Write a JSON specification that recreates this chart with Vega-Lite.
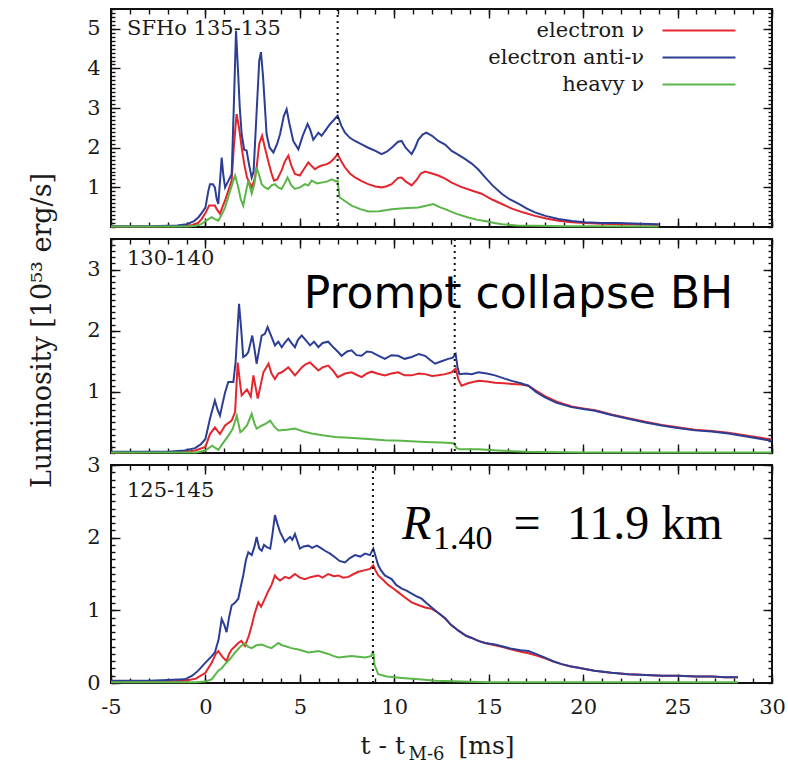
{
  "$schema": "https://vega.github.io/schema/vega-lite/v6.json",
  "background": "white",
  "padding": {"left": 26, "top": 7, "right": 0, "bottom": 0},
  "bounds": "flush",
  "spacing": 12,
  "config": {
    "view": {"stroke": "#111111", "strokeWidth": 2},
    "axis": {
      "grid": false, "domain": false, "tickColor": "#111111", "tickWidth": 1.4,
      "labelFont": "DejaVu Serif", "labelFontSize": 21, "labelColor": "#1a1a1a", "labelFlush": false,
      "titleFont": "DejaVu Serif", "titleFontSize": 25, "titleFontWeight": "normal", "titleColor": "#1a1a1a"
    },
    "line": {"strokeWidth": 2}
  },
  "resolve": {"scale": {"color": "independent"}, "legend": {"color": "independent"}},
  "datasets": {
    "sfho_135_135": [
      {"species": "electron ν", "t": -5, "L": 0.01}, {"species": "electron ν", "t": -3, "L": 0.01}, {"species": "electron ν", "t": -2, "L": 0.02}, {"species": "electron ν", "t": -1, "L": 0.03}, {"species": "electron ν", "t": -0.7, "L": 0.05}, {"species": "electron ν", "t": -0.4, "L": 0.1}, {"species": "electron ν", "t": -0.2, "L": 0.2}, {"species": "electron ν", "t": 0, "L": 0.35}, {"species": "electron ν", "t": 0.2, "L": 0.54}, {"species": "electron ν", "t": 0.5, "L": 0.54}, {"species": "electron ν", "t": 0.6, "L": 0.45}, {"species": "electron ν", "t": 0.77, "L": 0.33}, {"species": "electron ν", "t": 0.9, "L": 0.5}, {"species": "electron ν", "t": 1.04, "L": 0.67}, {"species": "electron ν", "t": 1.2, "L": 0.9}, {"species": "electron ν", "t": 1.39, "L": 1.17}, {"species": "electron ν", "t": 1.5, "L": 2.0}, {"species": "electron ν", "t": 1.65, "L": 2.85}, {"species": "electron ν", "t": 1.78, "L": 2.5}, {"species": "electron ν", "t": 1.92, "L": 2.0}, {"species": "electron ν", "t": 2.05, "L": 1.6}, {"species": "electron ν", "t": 2.2, "L": 1.25}, {"species": "electron ν", "t": 2.45, "L": 1.0}, {"species": "electron ν", "t": 2.6, "L": 1.2}, {"species": "electron ν", "t": 2.71, "L": 1.5}, {"species": "electron ν", "t": 2.85, "L": 2.1}, {"species": "electron ν", "t": 3.0, "L": 2.3}, {"species": "electron ν", "t": 3.15, "L": 2.0}, {"species": "electron ν", "t": 3.32, "L": 1.67}, {"species": "electron ν", "t": 3.5, "L": 1.35}, {"species": "electron ν", "t": 3.63, "L": 1.17}, {"species": "electron ν", "t": 3.8, "L": 1.2}, {"species": "electron ν", "t": 4.03, "L": 1.42}, {"species": "electron ν", "t": 4.2, "L": 1.65}, {"species": "electron ν", "t": 4.39, "L": 1.8}, {"species": "electron ν", "t": 4.55, "L": 1.55}, {"species": "electron ν", "t": 4.74, "L": 1.34}, {"species": "electron ν", "t": 5.0, "L": 1.3}, {"species": "electron ν", "t": 5.2, "L": 1.45}, {"species": "electron ν", "t": 5.45, "L": 1.63}, {"species": "electron ν", "t": 5.6, "L": 1.55}, {"species": "electron ν", "t": 5.8, "L": 1.46}, {"species": "electron ν", "t": 6.0, "L": 1.52}, {"species": "electron ν", "t": 6.16, "L": 1.55}, {"species": "electron ν", "t": 6.4, "L": 1.58}, {"species": "electron ν", "t": 6.6, "L": 1.63}, {"species": "electron ν", "t": 6.8, "L": 1.72}, {"species": "electron ν", "t": 7.0, "L": 1.84}, {"species": "electron ν", "t": 7.2, "L": 1.65}, {"species": "electron ν", "t": 7.39, "L": 1.5}, {"species": "electron ν", "t": 7.65, "L": 1.35}, {"species": "electron ν", "t": 7.92, "L": 1.25}, {"species": "electron ν", "t": 8.3, "L": 1.15}, {"species": "electron ν", "t": 8.62, "L": 1.08}, {"species": "electron ν", "t": 9.0, "L": 1.02}, {"species": "electron ν", "t": 9.33, "L": 1.0}, {"species": "electron ν", "t": 9.6, "L": 1.03}, {"species": "electron ν", "t": 9.86, "L": 1.08}, {"species": "electron ν", "t": 10.2, "L": 1.24}, {"species": "electron ν", "t": 10.39, "L": 1.25}, {"species": "electron ν", "t": 10.6, "L": 1.15}, {"species": "electron ν", "t": 10.92, "L": 1.05}, {"species": "electron ν", "t": 11.2, "L": 1.2}, {"species": "electron ν", "t": 11.4, "L": 1.35}, {"species": "electron ν", "t": 11.63, "L": 1.4}, {"species": "electron ν", "t": 12.0, "L": 1.35}, {"species": "electron ν", "t": 12.33, "L": 1.3}, {"species": "electron ν", "t": 12.69, "L": 1.22}, {"species": "electron ν", "t": 13.04, "L": 1.12}, {"species": "electron ν", "t": 13.5, "L": 1.02}, {"species": "electron ν", "t": 14.1, "L": 0.92}, {"species": "electron ν", "t": 14.62, "L": 0.84}, {"species": "electron ν", "t": 15.15, "L": 0.7}, {"species": "electron ν", "t": 15.7, "L": 0.58}, {"species": "electron ν", "t": 16.2, "L": 0.47}, {"species": "electron ν", "t": 16.8, "L": 0.37}, {"species": "electron ν", "t": 17.45, "L": 0.28}, {"species": "electron ν", "t": 18.1, "L": 0.21}, {"species": "electron ν", "t": 18.7, "L": 0.16}, {"species": "electron ν", "t": 19.4, "L": 0.12}, {"species": "electron ν", "t": 20.1, "L": 0.1}, {"species": "electron ν", "t": 21, "L": 0.08}, {"species": "electron ν", "t": 22, "L": 0.07}, {"species": "electron ν", "t": 23, "L": 0.06}, {"species": "electron ν", "t": 24, "L": 0.05},
      {"species": "electron anti-ν", "t": -5, "L": 0.02}, {"species": "electron anti-ν", "t": -3, "L": 0.02}, {"species": "electron anti-ν", "t": -2, "L": 0.03}, {"species": "electron anti-ν", "t": -1.5, "L": 0.04}, {"species": "electron anti-ν", "t": -1, "L": 0.07}, {"species": "electron anti-ν", "t": -0.6, "L": 0.15}, {"species": "electron anti-ν", "t": -0.38, "L": 0.24}, {"species": "electron anti-ν", "t": -0.2, "L": 0.35}, {"species": "electron anti-ν", "t": 0, "L": 0.49}, {"species": "electron anti-ν", "t": 0.15, "L": 0.9}, {"species": "electron anti-ν", "t": 0.24, "L": 1.08}, {"species": "electron anti-ν", "t": 0.4, "L": 1.08}, {"species": "electron anti-ν", "t": 0.5, "L": 1.0}, {"species": "electron anti-ν", "t": 0.6, "L": 0.7}, {"species": "electron anti-ν", "t": 0.68, "L": 0.58}, {"species": "electron anti-ν", "t": 0.78, "L": 1.2}, {"species": "electron anti-ν", "t": 0.86, "L": 1.75}, {"species": "electron anti-ν", "t": 0.95, "L": 1.3}, {"species": "electron anti-ν", "t": 1.04, "L": 1.0}, {"species": "electron anti-ν", "t": 1.2, "L": 1.15}, {"species": "electron anti-ν", "t": 1.39, "L": 1.33}, {"species": "electron anti-ν", "t": 1.5, "L": 3.0}, {"species": "electron anti-ν", "t": 1.62, "L": 4.95}, {"species": "electron anti-ν", "t": 1.72, "L": 4.0}, {"species": "electron anti-ν", "t": 1.82, "L": 3.0}, {"species": "electron anti-ν", "t": 1.92, "L": 2.34}, {"species": "electron anti-ν", "t": 2.05, "L": 1.95}, {"species": "electron anti-ν", "t": 2.18, "L": 1.93}, {"species": "electron anti-ν", "t": 2.3, "L": 1.6}, {"species": "electron anti-ν", "t": 2.45, "L": 1.25}, {"species": "electron anti-ν", "t": 2.55, "L": 1.4}, {"species": "electron anti-ν", "t": 2.7, "L": 2.8}, {"species": "electron anti-ν", "t": 2.85, "L": 4.2}, {"species": "electron anti-ν", "t": 2.94, "L": 4.41}, {"species": "electron anti-ν", "t": 3.05, "L": 3.8}, {"species": "electron anti-ν", "t": 3.24, "L": 2.34}, {"species": "electron anti-ν", "t": 3.4, "L": 2.0}, {"species": "electron anti-ν", "t": 3.6, "L": 1.88}, {"species": "electron anti-ν", "t": 3.8, "L": 2.1}, {"species": "electron anti-ν", "t": 3.95, "L": 2.34}, {"species": "electron anti-ν", "t": 4.15, "L": 2.8}, {"species": "electron anti-ν", "t": 4.3, "L": 2.97}, {"species": "electron anti-ν", "t": 4.45, "L": 2.6}, {"species": "electron anti-ν", "t": 4.65, "L": 2.17}, {"species": "electron anti-ν", "t": 4.92, "L": 1.96}, {"species": "electron anti-ν", "t": 5.15, "L": 2.3}, {"species": "electron anti-ν", "t": 5.41, "L": 2.6}, {"species": "electron anti-ν", "t": 5.55, "L": 2.45}, {"species": "electron anti-ν", "t": 5.71, "L": 2.2}, {"species": "electron anti-ν", "t": 5.98, "L": 2.38}, {"species": "electron anti-ν", "t": 6.15, "L": 2.3}, {"species": "electron anti-ν", "t": 6.33, "L": 2.42}, {"species": "electron anti-ν", "t": 6.6, "L": 2.6}, {"species": "electron anti-ν", "t": 6.8, "L": 2.7}, {"species": "electron anti-ν", "t": 7.0, "L": 2.81}, {"species": "electron anti-ν", "t": 7.2, "L": 2.55}, {"species": "electron anti-ν", "t": 7.39, "L": 2.38}, {"species": "electron anti-ν", "t": 7.65, "L": 2.25}, {"species": "electron anti-ν", "t": 7.92, "L": 2.17}, {"species": "electron anti-ν", "t": 8.3, "L": 2.08}, {"species": "electron anti-ν", "t": 8.62, "L": 2.0}, {"species": "electron anti-ν", "t": 9.0, "L": 1.92}, {"species": "electron anti-ν", "t": 9.33, "L": 1.84}, {"species": "electron anti-ν", "t": 9.6, "L": 1.9}, {"species": "electron anti-ν", "t": 9.86, "L": 2.0}, {"species": "electron anti-ν", "t": 10.2, "L": 2.15}, {"species": "electron anti-ν", "t": 10.39, "L": 2.17}, {"species": "electron anti-ν", "t": 10.6, "L": 2.0}, {"species": "electron anti-ν", "t": 10.92, "L": 1.84}, {"species": "electron anti-ν", "t": 11.1, "L": 2.0}, {"species": "electron anti-ν", "t": 11.27, "L": 2.2}, {"species": "electron anti-ν", "t": 11.5, "L": 2.33}, {"species": "electron anti-ν", "t": 11.7, "L": 2.38}, {"species": "electron anti-ν", "t": 12.0, "L": 2.3}, {"species": "electron anti-ν", "t": 12.33, "L": 2.17}, {"species": "electron anti-ν", "t": 12.69, "L": 2.08}, {"species": "electron anti-ν", "t": 13.04, "L": 1.92}, {"species": "electron anti-ν", "t": 13.4, "L": 1.82}, {"species": "electron anti-ν", "t": 13.74, "L": 1.72}, {"species": "electron anti-ν", "t": 14.1, "L": 1.6}, {"species": "electron anti-ν", "t": 14.45, "L": 1.45}, {"species": "electron anti-ν", "t": 14.8, "L": 1.26}, {"species": "electron anti-ν", "t": 15.2, "L": 1.05}, {"species": "electron anti-ν", "t": 15.69, "L": 0.84}, {"species": "electron anti-ν", "t": 16.1, "L": 0.7}, {"species": "electron anti-ν", "t": 16.57, "L": 0.59}, {"species": "electron anti-ν", "t": 17.0, "L": 0.47}, {"species": "electron anti-ν", "t": 17.45, "L": 0.37}, {"species": "electron anti-ν", "t": 18.0, "L": 0.28}, {"species": "electron anti-ν", "t": 18.69, "L": 0.2}, {"species": "electron anti-ν", "t": 19.4, "L": 0.15}, {"species": "electron anti-ν", "t": 20.1, "L": 0.12}, {"species": "electron anti-ν", "t": 21.0, "L": 0.1}, {"species": "electron anti-ν", "t": 21.86, "L": 0.1}, {"species": "electron anti-ν", "t": 23.0, "L": 0.08}, {"species": "electron anti-ν", "t": 24.0, "L": 0.07},
      {"species": "heavy ν", "t": -5, "L": 0.01}, {"species": "heavy ν", "t": -1, "L": 0.01}, {"species": "heavy ν", "t": -0.5, "L": 0.03}, {"species": "heavy ν", "t": -0.2, "L": 0.08}, {"species": "heavy ν", "t": 0, "L": 0.15}, {"species": "heavy ν", "t": 0.33, "L": 0.25}, {"species": "heavy ν", "t": 0.5, "L": 0.2}, {"species": "heavy ν", "t": 0.68, "L": 0.16}, {"species": "heavy ν", "t": 0.85, "L": 0.3}, {"species": "heavy ν", "t": 1.04, "L": 0.49}, {"species": "heavy ν", "t": 1.3, "L": 0.9}, {"species": "heavy ν", "t": 1.57, "L": 1.3}, {"species": "heavy ν", "t": 1.74, "L": 1.0}, {"species": "heavy ν", "t": 1.87, "L": 0.7}, {"species": "heavy ν", "t": 2.0, "L": 0.54}, {"species": "heavy ν", "t": 2.15, "L": 0.9}, {"species": "heavy ν", "t": 2.27, "L": 1.17}, {"species": "heavy ν", "t": 2.45, "L": 0.84}, {"species": "heavy ν", "t": 2.6, "L": 1.1}, {"species": "heavy ν", "t": 2.71, "L": 1.5}, {"species": "heavy ν", "t": 2.85, "L": 1.3}, {"species": "heavy ν", "t": 2.98, "L": 1.08}, {"species": "heavy ν", "t": 3.15, "L": 1.0}, {"species": "heavy ν", "t": 3.32, "L": 0.96}, {"species": "heavy ν", "t": 3.5, "L": 1.05}, {"species": "heavy ν", "t": 3.68, "L": 1.08}, {"species": "heavy ν", "t": 3.85, "L": 1.0}, {"species": "heavy ν", "t": 4.03, "L": 0.96}, {"species": "heavy ν", "t": 4.2, "L": 1.1}, {"species": "heavy ν", "t": 4.35, "L": 1.25}, {"species": "heavy ν", "t": 4.55, "L": 1.05}, {"species": "heavy ν", "t": 4.74, "L": 0.96}, {"species": "heavy ν", "t": 5.0, "L": 1.0}, {"species": "heavy ν", "t": 5.27, "L": 1.08}, {"species": "heavy ν", "t": 5.45, "L": 1.05}, {"species": "heavy ν", "t": 5.63, "L": 1.17}, {"species": "heavy ν", "t": 5.9, "L": 1.1}, {"species": "heavy ν", "t": 6.16, "L": 1.12}, {"species": "heavy ν", "t": 6.45, "L": 1.15}, {"species": "heavy ν", "t": 6.69, "L": 1.2}, {"species": "heavy ν", "t": 6.9, "L": 1.15}, {"species": "heavy ν", "t": 7.0, "L": 1.17}, {"species": "heavy ν", "t": 7.1, "L": 0.75}, {"species": "heavy ν", "t": 7.4, "L": 0.65}, {"species": "heavy ν", "t": 7.74, "L": 0.54}, {"species": "heavy ν", "t": 8.2, "L": 0.45}, {"species": "heavy ν", "t": 8.62, "L": 0.39}, {"species": "heavy ν", "t": 9.2, "L": 0.4}, {"species": "heavy ν", "t": 9.86, "L": 0.45}, {"species": "heavy ν", "t": 10.5, "L": 0.47}, {"species": "heavy ν", "t": 11.27, "L": 0.49}, {"species": "heavy ν", "t": 11.8, "L": 0.55}, {"species": "heavy ν", "t": 12.07, "L": 0.58}, {"species": "heavy ν", "t": 12.4, "L": 0.5}, {"species": "heavy ν", "t": 12.69, "L": 0.45}, {"species": "heavy ν", "t": 13.3, "L": 0.33}, {"species": "heavy ν", "t": 13.92, "L": 0.24}, {"species": "heavy ν", "t": 14.4, "L": 0.18}, {"species": "heavy ν", "t": 14.8, "L": 0.15}, {"species": "heavy ν", "t": 15.3, "L": 0.1}, {"species": "heavy ν", "t": 15.7, "L": 0.07}, {"species": "heavy ν", "t": 16.5, "L": 0.04}, {"species": "heavy ν", "t": 17.5, "L": 0.03}, {"species": "heavy ν", "t": 19, "L": 0.02}, {"species": "heavy ν", "t": 21, "L": 0.02}, {"species": "heavy ν", "t": 24, "L": 0.01}
    ],
    "sfho_130_140": [
      {"species": "electron ν", "t": -5, "L": 0.01}, {"species": "electron ν", "t": -1, "L": 0.02}, {"species": "electron ν", "t": -0.55, "L": 0.04}, {"species": "electron ν", "t": 0, "L": 0.1}, {"species": "electron ν", "t": 0.24, "L": 0.31}, {"species": "electron ν", "t": 0.5, "L": 0.42}, {"species": "electron ν", "t": 0.77, "L": 0.31}, {"species": "electron ν", "t": 1.04, "L": 0.45}, {"species": "electron ν", "t": 1.39, "L": 0.53}, {"species": "electron ν", "t": 1.57, "L": 0.67}, {"species": "electron ν", "t": 1.71, "L": 1.48}, {"species": "electron ν", "t": 1.85, "L": 1.1}, {"species": "electron ν", "t": 1.92, "L": 0.94}, {"species": "electron ν", "t": 2.2, "L": 1.04}, {"species": "electron ν", "t": 2.4, "L": 0.92}, {"species": "electron ν", "t": 2.54, "L": 1.27}, {"species": "electron ν", "t": 2.77, "L": 0.89}, {"species": "electron ν", "t": 3.07, "L": 1.32}, {"species": "electron ν", "t": 3.34, "L": 1.46}, {"species": "electron ν", "t": 3.5, "L": 1.3}, {"species": "electron ν", "t": 3.68, "L": 1.21}, {"species": "electron ν", "t": 3.86, "L": 1.3}, {"species": "electron ν", "t": 4.04, "L": 1.32}, {"species": "electron ν", "t": 4.39, "L": 1.4}, {"species": "electron ν", "t": 4.74, "L": 1.27}, {"species": "electron ν", "t": 5.1, "L": 1.4}, {"species": "electron ν", "t": 5.3, "L": 1.45}, {"species": "electron ν", "t": 5.54, "L": 1.48}, {"species": "electron ν", "t": 5.75, "L": 1.42}, {"species": "electron ν", "t": 5.98, "L": 1.35}, {"species": "electron ν", "t": 6.2, "L": 1.4}, {"species": "electron ν", "t": 6.5, "L": 1.43}, {"species": "electron ν", "t": 6.75, "L": 1.35}, {"species": "electron ν", "t": 7.0, "L": 1.24}, {"species": "electron ν", "t": 7.4, "L": 1.3}, {"species": "electron ν", "t": 7.74, "L": 1.32}, {"species": "electron ν", "t": 8.0, "L": 1.28}, {"species": "electron ν", "t": 8.27, "L": 1.24}, {"species": "electron ν", "t": 8.55, "L": 1.3}, {"species": "electron ν", "t": 8.8, "L": 1.33}, {"species": "electron ν", "t": 9.1, "L": 1.3}, {"species": "electron ν", "t": 9.5, "L": 1.27}, {"species": "electron ν", "t": 9.85, "L": 1.3}, {"species": "electron ν", "t": 10.2, "L": 1.32}, {"species": "electron ν", "t": 10.55, "L": 1.27}, {"species": "electron ν", "t": 10.92, "L": 1.27}, {"species": "electron ν", "t": 11.3, "L": 1.3}, {"species": "electron ν", "t": 11.63, "L": 1.29}, {"species": "electron ν", "t": 12.0, "L": 1.26}, {"species": "electron ν", "t": 12.33, "L": 1.27}, {"species": "electron ν", "t": 12.7, "L": 1.29}, {"species": "electron ν", "t": 13.04, "L": 1.32}, {"species": "electron ν", "t": 13.25, "L": 1.38}, {"species": "electron ν", "t": 13.4, "L": 1.2}, {"species": "electron ν", "t": 13.56, "L": 1.1}, {"species": "electron ν", "t": 13.9, "L": 1.14}, {"species": "electron ν", "t": 14.45, "L": 1.18}, {"species": "electron ν", "t": 14.9, "L": 1.17}, {"species": "electron ν", "t": 15.33, "L": 1.15}, {"species": "electron ν", "t": 15.8, "L": 1.14}, {"species": "electron ν", "t": 16.22, "L": 1.13}, {"species": "electron ν", "t": 16.7, "L": 1.12}, {"species": "electron ν", "t": 17.1, "L": 1.1}, {"species": "electron ν", "t": 17.5, "L": 1.02}, {"species": "electron ν", "t": 17.98, "L": 0.93}, {"species": "electron ν", "t": 18.6, "L": 0.84}, {"species": "electron ν", "t": 19.39, "L": 0.76}, {"species": "electron ν", "t": 20.0, "L": 0.73}, {"species": "electron ν", "t": 20.63, "L": 0.7}, {"species": "electron ν", "t": 21.5, "L": 0.63}, {"species": "electron ν", "t": 22.39, "L": 0.57}, {"species": "electron ν", "t": 23.3, "L": 0.51}, {"species": "electron ν", "t": 24.16, "L": 0.46}, {"species": "electron ν", "t": 25.0, "L": 0.42}, {"species": "electron ν", "t": 25.92, "L": 0.38}, {"species": "electron ν", "t": 26.8, "L": 0.36}, {"species": "electron ν", "t": 27.69, "L": 0.33}, {"species": "electron ν", "t": 28.8, "L": 0.28}, {"species": "electron ν", "t": 29.98, "L": 0.22},
      {"species": "electron anti-ν", "t": -5, "L": 0.02}, {"species": "electron anti-ν", "t": -2, "L": 0.02}, {"species": "electron anti-ν", "t": -1.1, "L": 0.04}, {"species": "electron anti-ν", "t": -0.55, "L": 0.08}, {"species": "electron anti-ν", "t": -0.25, "L": 0.14}, {"species": "electron anti-ν", "t": 0, "L": 0.23}, {"species": "electron anti-ν", "t": 0.24, "L": 0.56}, {"species": "electron anti-ν", "t": 0.5, "L": 0.86}, {"species": "electron anti-ν", "t": 0.65, "L": 0.7}, {"species": "electron anti-ν", "t": 0.77, "L": 0.61}, {"species": "electron anti-ν", "t": 0.9, "L": 0.8}, {"species": "electron anti-ν", "t": 1.04, "L": 0.99}, {"species": "electron anti-ν", "t": 1.21, "L": 1.16}, {"species": "electron anti-ν", "t": 1.48, "L": 1.16}, {"species": "electron anti-ν", "t": 1.6, "L": 1.5}, {"species": "electron anti-ν", "t": 1.78, "L": 2.44}, {"species": "electron anti-ν", "t": 1.9, "L": 2.0}, {"species": "electron anti-ν", "t": 2.0, "L": 1.57}, {"species": "electron anti-ν", "t": 2.15, "L": 1.6}, {"species": "electron anti-ν", "t": 2.27, "L": 1.65}, {"species": "electron anti-ν", "t": 2.48, "L": 1.92}, {"species": "electron anti-ν", "t": 2.6, "L": 1.7}, {"species": "electron anti-ν", "t": 2.71, "L": 1.46}, {"species": "electron anti-ν", "t": 2.85, "L": 1.7}, {"species": "electron anti-ν", "t": 2.98, "L": 1.92}, {"species": "electron anti-ν", "t": 3.15, "L": 1.95}, {"species": "electron anti-ν", "t": 3.29, "L": 2.06}, {"species": "electron anti-ν", "t": 3.5, "L": 1.9}, {"species": "electron anti-ν", "t": 3.68, "L": 1.76}, {"species": "electron anti-ν", "t": 3.86, "L": 1.82}, {"species": "electron anti-ν", "t": 4.04, "L": 1.73}, {"species": "electron anti-ν", "t": 4.2, "L": 1.8}, {"species": "electron anti-ν", "t": 4.39, "L": 1.87}, {"species": "electron anti-ν", "t": 4.55, "L": 1.8}, {"species": "electron anti-ν", "t": 4.74, "L": 1.73}, {"species": "electron anti-ν", "t": 4.9, "L": 1.85}, {"species": "electron anti-ν", "t": 5.1, "L": 1.92}, {"species": "electron anti-ν", "t": 5.3, "L": 1.85}, {"species": "electron anti-ν", "t": 5.54, "L": 1.76}, {"species": "electron anti-ν", "t": 5.75, "L": 1.82}, {"species": "electron anti-ν", "t": 5.98, "L": 1.73}, {"species": "electron anti-ν", "t": 6.2, "L": 1.8}, {"species": "electron anti-ν", "t": 6.5, "L": 1.82}, {"species": "electron anti-ν", "t": 6.8, "L": 1.72}, {"species": "electron anti-ν", "t": 7.0, "L": 1.66}, {"species": "electron anti-ν", "t": 7.21, "L": 1.59}, {"species": "electron anti-ν", "t": 7.5, "L": 1.66}, {"species": "electron anti-ν", "t": 7.74, "L": 1.68}, {"species": "electron anti-ν", "t": 8.0, "L": 1.6}, {"species": "electron anti-ν", "t": 8.27, "L": 1.59}, {"species": "electron anti-ν", "t": 8.55, "L": 1.66}, {"species": "electron anti-ν", "t": 8.8, "L": 1.65}, {"species": "electron anti-ν", "t": 9.1, "L": 1.6}, {"species": "electron anti-ν", "t": 9.5, "L": 1.54}, {"species": "electron anti-ν", "t": 9.85, "L": 1.6}, {"species": "electron anti-ν", "t": 10.2, "L": 1.59}, {"species": "electron anti-ν", "t": 10.55, "L": 1.54}, {"species": "electron anti-ν", "t": 10.92, "L": 1.57}, {"species": "electron anti-ν", "t": 11.3, "L": 1.62}, {"species": "electron anti-ν", "t": 11.63, "L": 1.59}, {"species": "electron anti-ν", "t": 11.9, "L": 1.52}, {"species": "electron anti-ν", "t": 12.16, "L": 1.46}, {"species": "electron anti-ν", "t": 12.5, "L": 1.5}, {"species": "electron anti-ν", "t": 12.86, "L": 1.54}, {"species": "electron anti-ν", "t": 13.1, "L": 1.56}, {"species": "electron anti-ν", "t": 13.25, "L": 1.62}, {"species": "electron anti-ν", "t": 13.35, "L": 1.4}, {"species": "electron anti-ν", "t": 13.45, "L": 1.29}, {"species": "electron anti-ν", "t": 13.8, "L": 1.3}, {"species": "electron anti-ν", "t": 14.1, "L": 1.29}, {"species": "electron anti-ν", "t": 14.45, "L": 1.32}, {"species": "electron anti-ν", "t": 14.9, "L": 1.3}, {"species": "electron anti-ν", "t": 15.33, "L": 1.27}, {"species": "electron anti-ν", "t": 15.8, "L": 1.22}, {"species": "electron anti-ν", "t": 16.22, "L": 1.18}, {"species": "electron anti-ν", "t": 16.7, "L": 1.14}, {"species": "electron anti-ν", "t": 17.1, "L": 1.1}, {"species": "electron anti-ν", "t": 17.5, "L": 1.0}, {"species": "electron anti-ν", "t": 17.98, "L": 0.91}, {"species": "electron anti-ν", "t": 18.6, "L": 0.82}, {"species": "electron anti-ν", "t": 19.39, "L": 0.75}, {"species": "electron anti-ν", "t": 20.0, "L": 0.72}, {"species": "electron anti-ν", "t": 20.63, "L": 0.69}, {"species": "electron anti-ν", "t": 21.5, "L": 0.62}, {"species": "electron anti-ν", "t": 22.39, "L": 0.56}, {"species": "electron anti-ν", "t": 23.3, "L": 0.5}, {"species": "electron anti-ν", "t": 24.16, "L": 0.45}, {"species": "electron anti-ν", "t": 25.0, "L": 0.41}, {"species": "electron anti-ν", "t": 25.92, "L": 0.37}, {"species": "electron anti-ν", "t": 26.8, "L": 0.35}, {"species": "electron anti-ν", "t": 27.69, "L": 0.32}, {"species": "electron anti-ν", "t": 28.8, "L": 0.26}, {"species": "electron anti-ν", "t": 29.98, "L": 0.2},
      {"species": "heavy ν", "t": -5, "L": 0.01}, {"species": "heavy ν", "t": -0.5, "L": 0.01}, {"species": "heavy ν", "t": 0, "L": 0.04}, {"species": "heavy ν", "t": 0.35, "L": 0.12}, {"species": "heavy ν", "t": 0.68, "L": 0.05}, {"species": "heavy ν", "t": 0.9, "L": 0.15}, {"species": "heavy ν", "t": 1.21, "L": 0.28}, {"species": "heavy ν", "t": 1.45, "L": 0.4}, {"species": "heavy ν", "t": 1.66, "L": 0.61}, {"species": "heavy ν", "t": 1.85, "L": 0.34}, {"species": "heavy ν", "t": 2.0, "L": 0.38}, {"species": "heavy ν", "t": 2.2, "L": 0.45}, {"species": "heavy ν", "t": 2.45, "L": 0.64}, {"species": "heavy ν", "t": 2.6, "L": 0.48}, {"species": "heavy ν", "t": 2.71, "L": 0.4}, {"species": "heavy ν", "t": 3.0, "L": 0.45}, {"species": "heavy ν", "t": 3.2, "L": 0.48}, {"species": "heavy ν", "t": 3.43, "L": 0.53}, {"species": "heavy ν", "t": 3.65, "L": 0.43}, {"species": "heavy ν", "t": 3.86, "L": 0.37}, {"species": "heavy ν", "t": 4.3, "L": 0.38}, {"species": "heavy ν", "t": 4.74, "L": 0.4}, {"species": "heavy ν", "t": 5.2, "L": 0.35}, {"species": "heavy ν", "t": 5.63, "L": 0.32}, {"species": "heavy ν", "t": 6.2, "L": 0.29}, {"species": "heavy ν", "t": 6.86, "L": 0.26}, {"species": "heavy ν", "t": 7.6, "L": 0.25}, {"species": "heavy ν", "t": 8.62, "L": 0.23}, {"species": "heavy ν", "t": 9.5, "L": 0.21}, {"species": "heavy ν", "t": 10.4, "L": 0.2}, {"species": "heavy ν", "t": 11.6, "L": 0.18}, {"species": "heavy ν", "t": 12.5, "L": 0.17}, {"species": "heavy ν", "t": 13.15, "L": 0.16}, {"species": "heavy ν", "t": 13.3, "L": 0.08}, {"species": "heavy ν", "t": 13.5, "L": 0.06}, {"species": "heavy ν", "t": 14.45, "L": 0.06}, {"species": "heavy ν", "t": 15.5, "L": 0.04}, {"species": "heavy ν", "t": 17.0, "L": 0.02}, {"species": "heavy ν", "t": 20, "L": 0.01}, {"species": "heavy ν", "t": 25, "L": 0.01}, {"species": "heavy ν", "t": 29.98, "L": 0.01}
    ],
    "sfho_125_145": [
      {"species": "electron ν", "t": -5, "L": 0.02}, {"species": "electron ν", "t": -2, "L": 0.02}, {"species": "electron ν", "t": -1.08, "L": 0.03}, {"species": "electron ν", "t": -0.5, "L": 0.06}, {"species": "electron ν", "t": 0, "L": 0.14}, {"species": "electron ν", "t": 0.33, "L": 0.28}, {"species": "electron ν", "t": 0.55, "L": 0.4}, {"species": "electron ν", "t": 0.68, "L": 0.44}, {"species": "electron ν", "t": 0.9, "L": 0.36}, {"species": "electron ν", "t": 1.12, "L": 0.3}, {"species": "electron ν", "t": 1.25, "L": 0.4}, {"species": "electron ν", "t": 1.39, "L": 0.46}, {"species": "electron ν", "t": 1.55, "L": 0.5}, {"species": "electron ν", "t": 1.74, "L": 0.55}, {"species": "electron ν", "t": 1.9, "L": 0.58}, {"species": "electron ν", "t": 2.09, "L": 0.51}, {"species": "electron ν", "t": 2.3, "L": 0.65}, {"species": "electron ν", "t": 2.45, "L": 0.79}, {"species": "electron ν", "t": 2.6, "L": 0.95}, {"species": "electron ν", "t": 2.8, "L": 1.11}, {"species": "electron ν", "t": 2.95, "L": 1.05}, {"species": "electron ν", "t": 3.15, "L": 1.16}, {"species": "electron ν", "t": 3.3, "L": 1.25}, {"species": "electron ν", "t": 3.5, "L": 1.35}, {"species": "electron ν", "t": 3.68, "L": 1.48}, {"species": "electron ν", "t": 3.8, "L": 1.44}, {"species": "electron ν", "t": 3.95, "L": 1.41}, {"species": "electron ν", "t": 4.21, "L": 1.46}, {"species": "electron ν", "t": 4.45, "L": 1.44}, {"species": "electron ν", "t": 4.74, "L": 1.5}, {"species": "electron ν", "t": 5.0, "L": 1.45}, {"species": "electron ν", "t": 5.27, "L": 1.43}, {"species": "electron ν", "t": 5.6, "L": 1.46}, {"species": "electron ν", "t": 5.98, "L": 1.48}, {"species": "electron ν", "t": 6.2, "L": 1.45}, {"species": "electron ν", "t": 6.5, "L": 1.5}, {"species": "electron ν", "t": 6.8, "L": 1.47}, {"species": "electron ν", "t": 7.04, "L": 1.48}, {"species": "electron ν", "t": 7.3, "L": 1.45}, {"species": "electron ν", "t": 7.57, "L": 1.46}, {"species": "electron ν", "t": 7.85, "L": 1.5}, {"species": "electron ν", "t": 8.1, "L": 1.53}, {"species": "electron ν", "t": 8.4, "L": 1.55}, {"species": "electron ν", "t": 8.71, "L": 1.57}, {"species": "electron ν", "t": 8.89, "L": 1.62}, {"species": "electron ν", "t": 9.0, "L": 1.55}, {"species": "electron ν", "t": 9.15, "L": 1.48}, {"species": "electron ν", "t": 9.4, "L": 1.42}, {"species": "electron ν", "t": 9.68, "L": 1.35}, {"species": "electron ν", "t": 9.95, "L": 1.3}, {"species": "electron ν", "t": 10.2, "L": 1.25}, {"species": "electron ν", "t": 10.55, "L": 1.18}, {"species": "electron ν", "t": 10.92, "L": 1.11}, {"species": "electron ν", "t": 11.3, "L": 1.07}, {"species": "electron ν", "t": 11.63, "L": 1.04}, {"species": "electron ν", "t": 11.98, "L": 1.02}, {"species": "electron ν", "t": 12.3, "L": 0.97}, {"species": "electron ν", "t": 12.69, "L": 0.89}, {"species": "electron ν", "t": 13.0, "L": 0.8}, {"species": "electron ν", "t": 13.4, "L": 0.72}, {"species": "electron ν", "t": 13.8, "L": 0.65}, {"species": "electron ν", "t": 14.1, "L": 0.62}, {"species": "electron ν", "t": 14.45, "L": 0.58}, {"species": "electron ν", "t": 14.8, "L": 0.55}, {"species": "electron ν", "t": 15.33, "L": 0.52}, {"species": "electron ν", "t": 15.8, "L": 0.49}, {"species": "electron ν", "t": 16.22, "L": 0.46}, {"species": "electron ν", "t": 16.7, "L": 0.43}, {"species": "electron ν", "t": 17.1, "L": 0.41}, {"species": "electron ν", "t": 17.5, "L": 0.38}, {"species": "electron ν", "t": 17.98, "L": 0.34}, {"species": "electron ν", "t": 18.4, "L": 0.3}, {"species": "electron ν", "t": 18.86, "L": 0.26}, {"species": "electron ν", "t": 19.3, "L": 0.23}, {"species": "electron ν", "t": 19.75, "L": 0.21}, {"species": "electron ν", "t": 20.6, "L": 0.17}, {"species": "electron ν", "t": 21.5, "L": 0.14}, {"species": "electron ν", "t": 22.4, "L": 0.12}, {"species": "electron ν", "t": 23.3, "L": 0.11}, {"species": "electron ν", "t": 24.2, "L": 0.1}, {"species": "electron ν", "t": 25.0, "L": 0.1}, {"species": "electron ν", "t": 26.0, "L": 0.09}, {"species": "electron ν", "t": 26.8, "L": 0.09}, {"species": "electron ν", "t": 27.5, "L": 0.08}, {"species": "electron ν", "t": 28.2, "L": 0.08},
      {"species": "electron anti-ν", "t": -5, "L": 0.03}, {"species": "electron anti-ν", "t": -3, "L": 0.03}, {"species": "electron anti-ν", "t": -2, "L": 0.04}, {"species": "electron anti-ν", "t": -1.08, "L": 0.05}, {"species": "electron anti-ν", "t": -0.7, "L": 0.1}, {"species": "electron anti-ν", "t": -0.38, "L": 0.17}, {"species": "electron anti-ν", "t": 0, "L": 0.28}, {"species": "electron anti-ν", "t": 0.3, "L": 0.36}, {"species": "electron anti-ν", "t": 0.5, "L": 0.42}, {"species": "electron anti-ν", "t": 0.7, "L": 0.6}, {"species": "electron anti-ν", "t": 0.86, "L": 0.88}, {"species": "electron anti-ν", "t": 1.0, "L": 0.8}, {"species": "electron anti-ν", "t": 1.12, "L": 0.7}, {"species": "electron anti-ν", "t": 1.25, "L": 0.9}, {"species": "electron anti-ν", "t": 1.39, "L": 1.07}, {"species": "electron anti-ν", "t": 1.55, "L": 1.1}, {"species": "electron anti-ν", "t": 1.74, "L": 1.16}, {"species": "electron anti-ν", "t": 1.85, "L": 1.3}, {"species": "electron anti-ν", "t": 2.0, "L": 1.48}, {"species": "electron anti-ν", "t": 2.15, "L": 1.7}, {"species": "electron anti-ν", "t": 2.27, "L": 1.8}, {"species": "electron anti-ν", "t": 2.45, "L": 1.76}, {"species": "electron anti-ν", "t": 2.6, "L": 1.88}, {"species": "electron anti-ν", "t": 2.71, "L": 2.01}, {"species": "electron anti-ν", "t": 2.85, "L": 1.85}, {"species": "electron anti-ν", "t": 2.98, "L": 1.82}, {"species": "electron anti-ν", "t": 3.1, "L": 1.9}, {"species": "electron anti-ν", "t": 3.25, "L": 1.87}, {"species": "electron anti-ν", "t": 3.43, "L": 1.85}, {"species": "electron anti-ν", "t": 3.55, "L": 2.05}, {"species": "electron anti-ν", "t": 3.68, "L": 2.31}, {"species": "electron anti-ν", "t": 3.8, "L": 2.2}, {"species": "electron anti-ν", "t": 3.95, "L": 2.08}, {"species": "electron anti-ν", "t": 4.1, "L": 2.0}, {"species": "electron anti-ν", "t": 4.21, "L": 1.94}, {"species": "electron anti-ν", "t": 4.35, "L": 1.98}, {"species": "electron anti-ν", "t": 4.48, "L": 2.01}, {"species": "electron anti-ν", "t": 4.6, "L": 1.97}, {"species": "electron anti-ν", "t": 4.74, "L": 2.05}, {"species": "electron anti-ν", "t": 4.87, "L": 1.95}, {"species": "electron anti-ν", "t": 5.0, "L": 1.85}, {"species": "electron anti-ν", "t": 5.2, "L": 1.88}, {"species": "electron anti-ν", "t": 5.45, "L": 1.89}, {"species": "electron anti-ν", "t": 5.65, "L": 1.86}, {"species": "electron anti-ν", "t": 5.9, "L": 1.89}, {"species": "electron anti-ν", "t": 6.1, "L": 1.86}, {"species": "electron anti-ν", "t": 6.33, "L": 1.82}, {"species": "electron anti-ν", "t": 6.6, "L": 1.78}, {"species": "electron anti-ν", "t": 6.86, "L": 1.73}, {"species": "electron anti-ν", "t": 7.1, "L": 1.68}, {"species": "electron anti-ν", "t": 7.39, "L": 1.66}, {"species": "electron anti-ν", "t": 7.65, "L": 1.72}, {"species": "electron anti-ν", "t": 7.92, "L": 1.76}, {"species": "electron anti-ν", "t": 8.2, "L": 1.74}, {"species": "electron anti-ν", "t": 8.45, "L": 1.78}, {"species": "electron anti-ν", "t": 8.71, "L": 1.76}, {"species": "electron anti-ν", "t": 8.89, "L": 1.85}, {"species": "electron anti-ν", "t": 9.0, "L": 1.75}, {"species": "electron anti-ν", "t": 9.15, "L": 1.62}, {"species": "electron anti-ν", "t": 9.3, "L": 1.55}, {"species": "electron anti-ν", "t": 9.5, "L": 1.48}, {"species": "electron anti-ν", "t": 9.86, "L": 1.43}, {"species": "electron anti-ν", "t": 10.1, "L": 1.35}, {"species": "electron anti-ν", "t": 10.4, "L": 1.3}, {"species": "electron anti-ν", "t": 10.65, "L": 1.27}, {"species": "electron anti-ν", "t": 10.92, "L": 1.23}, {"species": "electron anti-ν", "t": 11.2, "L": 1.19}, {"species": "electron anti-ν", "t": 11.45, "L": 1.16}, {"species": "electron anti-ν", "t": 11.7, "L": 1.1}, {"species": "electron anti-ν", "t": 11.98, "L": 1.04}, {"species": "electron anti-ν", "t": 12.3, "L": 0.97}, {"species": "electron anti-ν", "t": 12.69, "L": 0.89}, {"species": "electron anti-ν", "t": 13.0, "L": 0.8}, {"species": "electron anti-ν", "t": 13.4, "L": 0.72}, {"species": "electron anti-ν", "t": 13.8, "L": 0.65}, {"species": "electron anti-ν", "t": 14.1, "L": 0.62}, {"species": "electron anti-ν", "t": 14.45, "L": 0.58}, {"species": "electron anti-ν", "t": 14.8, "L": 0.55}, {"species": "electron anti-ν", "t": 15.33, "L": 0.53}, {"species": "electron anti-ν", "t": 15.8, "L": 0.5}, {"species": "electron anti-ν", "t": 16.22, "L": 0.47}, {"species": "electron anti-ν", "t": 16.7, "L": 0.45}, {"species": "electron anti-ν", "t": 17.1, "L": 0.44}, {"species": "electron anti-ν", "t": 17.5, "L": 0.4}, {"species": "electron anti-ν", "t": 17.98, "L": 0.35}, {"species": "electron anti-ν", "t": 18.4, "L": 0.3}, {"species": "electron anti-ν", "t": 18.86, "L": 0.26}, {"species": "electron anti-ν", "t": 19.3, "L": 0.23}, {"species": "electron anti-ν", "t": 19.75, "L": 0.21}, {"species": "electron anti-ν", "t": 20.6, "L": 0.17}, {"species": "electron anti-ν", "t": 21.5, "L": 0.14}, {"species": "electron anti-ν", "t": 22.4, "L": 0.12}, {"species": "electron anti-ν", "t": 23.3, "L": 0.11}, {"species": "electron anti-ν", "t": 24.2, "L": 0.1}, {"species": "electron anti-ν", "t": 25.0, "L": 0.1}, {"species": "electron anti-ν", "t": 26.0, "L": 0.09}, {"species": "electron anti-ν", "t": 26.8, "L": 0.09}, {"species": "electron anti-ν", "t": 27.5, "L": 0.08}, {"species": "electron anti-ν", "t": 28.2, "L": 0.08},
      {"species": "heavy ν", "t": -5, "L": 0.01}, {"species": "heavy ν", "t": -0.5, "L": 0.01}, {"species": "heavy ν", "t": 0, "L": 0.02}, {"species": "heavy ν", "t": 0.33, "L": 0.05}, {"species": "heavy ν", "t": 0.68, "L": 0.17}, {"species": "heavy ν", "t": 0.85, "L": 0.2}, {"species": "heavy ν", "t": 1.04, "L": 0.26}, {"species": "heavy ν", "t": 1.3, "L": 0.33}, {"species": "heavy ν", "t": 1.57, "L": 0.42}, {"species": "heavy ν", "t": 1.85, "L": 0.5}, {"species": "heavy ν", "t": 2.09, "L": 0.55}, {"species": "heavy ν", "t": 2.25, "L": 0.5}, {"species": "heavy ν", "t": 2.45, "L": 0.48}, {"species": "heavy ν", "t": 2.7, "L": 0.52}, {"species": "heavy ν", "t": 2.98, "L": 0.53}, {"species": "heavy ν", "t": 3.25, "L": 0.5}, {"species": "heavy ν", "t": 3.5, "L": 0.48}, {"species": "heavy ν", "t": 3.7, "L": 0.52}, {"species": "heavy ν", "t": 3.86, "L": 0.55}, {"species": "heavy ν", "t": 4.05, "L": 0.52}, {"species": "heavy ν", "t": 4.21, "L": 0.51}, {"species": "heavy ν", "t": 4.55, "L": 0.48}, {"species": "heavy ν", "t": 4.92, "L": 0.46}, {"species": "heavy ν", "t": 5.2, "L": 0.44}, {"species": "heavy ν", "t": 5.45, "L": 0.42}, {"species": "heavy ν", "t": 5.75, "L": 0.43}, {"species": "heavy ν", "t": 5.98, "L": 0.44}, {"species": "heavy ν", "t": 6.25, "L": 0.42}, {"species": "heavy ν", "t": 6.5, "L": 0.4}, {"species": "heavy ν", "t": 6.8, "L": 0.37}, {"species": "heavy ν", "t": 7.04, "L": 0.35}, {"species": "heavy ν", "t": 7.4, "L": 0.36}, {"species": "heavy ν", "t": 7.74, "L": 0.37}, {"species": "heavy ν", "t": 8.1, "L": 0.36}, {"species": "heavy ν", "t": 8.45, "L": 0.35}, {"species": "heavy ν", "t": 8.77, "L": 0.37}, {"species": "heavy ν", "t": 8.89, "L": 0.44}, {"species": "heavy ν", "t": 8.95, "L": 0.25}, {"species": "heavy ν", "t": 9.15, "L": 0.12}, {"species": "heavy ν", "t": 9.6, "L": 0.09}, {"species": "heavy ν", "t": 10.4, "L": 0.07}, {"species": "heavy ν", "t": 11.3, "L": 0.05}, {"species": "heavy ν", "t": 12.2, "L": 0.03}, {"species": "heavy ν", "t": 13.5, "L": 0.02}, {"species": "heavy ν", "t": 15, "L": 0.01}, {"species": "heavy ν", "t": 20, "L": 0.01}, {"species": "heavy ν", "t": 28.2, "L": 0.01}
    ]
  },
  "vconcat": [
    {
      "width": 661, "height": 218,
      "data": {"name": "sfho_135_135"},
      "resolve": {"axis": {"x": "independent", "y": "independent"}},
      "layer": [
        {
          "transform": [{"filter": "datum.species === 'electron ν'"}],
          "mark": {"type": "line", "strokeWidth": 2},
          "encoding": {
            "x": {"field": "t", "type": "quantitative", "scale": {"domain": [-5, 30], "nice": false},
                  "axis": {"orient": "bottom", "values": [-5, 0, 5, 10, 15, 20, 25, 30], "tickSize": -9, "labels": false, "title": null}},
            "y": {"field": "L", "type": "quantitative", "scale": {"domain": [0, 5.5], "nice": false},
                  "axis": {"orient": "left", "values": [1, 2, 3, 4, 5], "tickSize": -9, "labelPadding": 20, "title": null}},
            "color": {"field": "species", "type": "nominal",
                      "scale": {"domain": ["electron ν", "electron anti-ν", "heavy ν"], "range": ["#e3262d", "#2c3e94", "#5bb548"]},
                      "legend": {"title": null, "orient": "none", "legendX": 577.5, "legendY": 11, "symbolType": "M-10,0H10", "symbolSize": 53.3, "symbolStrokeWidth": 2, "rowPadding": 5, "labelAlign": "right", "labelOffset": -65.5, "labelFont": "DejaVu Serif", "labelFontSize": 21, "labelColor": "#1a1a1a", "labelLimit": 400, "padding": 0}}
          }
        },
        {
          "transform": [{"filter": "datum.species === 'electron anti-ν'"}],
          "mark": {"type": "line", "strokeWidth": 2},
          "encoding": {
            "x": {"field": "t", "type": "quantitative", "scale": {"domain": [-5, 30], "nice": false},
                  "axis": {"orient": "bottom", "tickCount": 35, "tickSize": -5, "labels": false, "title": null}},
            "y": {"field": "L", "type": "quantitative", "scale": {"domain": [0, 5.5], "nice": false},
                  "axis": {"orient": "left", "tickCount": 55, "tickSize": -4, "labels": false, "title": null}},
            "color": {"field": "species", "type": "nominal", "scale": {"domain": ["electron ν", "electron anti-ν", "heavy ν"], "range": ["#e3262d", "#2c3e94", "#5bb548"]}}
          }
        },
        {
          "transform": [{"filter": "datum.species === 'heavy ν'"}],
          "mark": {"type": "line", "strokeWidth": 2},
          "encoding": {
            "x": {"field": "t", "type": "quantitative", "scale": {"domain": [-5, 30], "nice": false},
                  "axis": {"orient": "top", "values": [-5, 0, 5, 10, 15, 20, 25, 30], "tickSize": -9, "labels": false, "title": null}},
            "y": {"field": "L", "type": "quantitative", "scale": {"domain": [0, 5.5], "nice": false},
                  "axis": {"orient": "right", "values": [1, 2, 3, 4, 5], "tickSize": -9, "labels": false, "title": null}},
            "color": {"field": "species", "type": "nominal", "scale": {"domain": ["electron ν", "electron anti-ν", "heavy ν"], "range": ["#e3262d", "#2c3e94", "#5bb548"]}}
          }
        },
        {
          "data": {"values": [{"t": 7.0}]},
          "mark": {"type": "rule", "color": "#111111", "strokeWidth": 2, "strokeDash": [2, 4]},
          "encoding": {
            "x": {"field": "t", "type": "quantitative", "scale": {"domain": [-5, 30], "nice": false},
                  "axis": {"orient": "top", "tickCount": 35, "tickSize": -5, "labels": false, "title": null}}
          }
        },
        {
          "data": {"values": [{"label": "SFHo 135-135"}]},
          "mark": {"type": "text", "align": "left", "baseline": "alphabetic", "dx": 16, "dy": 26, "font": "DejaVu Serif", "fontSize": 21, "color": "#1a1a1a"},
          "encoding": {
            "x": {"datum": -5, "type": "quantitative", "scale": {"domain": [-5, 30], "nice": false}, "axis": null},
            "y": {"datum": 5.5, "type": "quantitative", "scale": {"domain": [0, 5.5], "nice": false},
                  "axis": {"orient": "right", "tickCount": 55, "tickSize": -4, "labels": false, "title": null}},
            "text": {"field": "label"}
          }
        }
      ]
    },
    {
      "width": 661, "height": 214,
      "data": {"name": "sfho_130_140"},
      "resolve": {"axis": {"x": "independent", "y": "independent"}},
      "layer": [
        {
          "transform": [{"filter": "datum.species === 'electron ν'"}],
          "mark": {"type": "line", "strokeWidth": 2},
          "encoding": {
            "x": {"field": "t", "type": "quantitative", "scale": {"domain": [-5, 30], "nice": false},
                  "axis": {"orient": "bottom", "values": [-5, 0, 5, 10, 15, 20, 25, 30], "tickSize": -9, "labels": false, "title": null}},
            "y": {"field": "L", "type": "quantitative", "scale": {"domain": [0, 3.5], "nice": false},
                  "axis": {"orient": "left", "values": [1, 2, 3], "tickSize": -9, "labelPadding": 20,
                           "title": "Luminosity [10⁵³ erg/s]", "titleX": -55, "titleY": 91, "titleFontSize": 27}},
            "color": {"field": "species", "type": "nominal", "scale": {"domain": ["electron ν", "electron anti-ν", "heavy ν"], "range": ["#e3262d", "#2c3e94", "#5bb548"]}, "legend": null}
          }
        },
        {
          "transform": [{"filter": "datum.species === 'electron anti-ν'"}],
          "mark": {"type": "line", "strokeWidth": 2},
          "encoding": {
            "x": {"field": "t", "type": "quantitative", "scale": {"domain": [-5, 30], "nice": false},
                  "axis": {"orient": "bottom", "tickCount": 35, "tickSize": -5, "labels": false, "title": null}},
            "y": {"field": "L", "type": "quantitative", "scale": {"domain": [0, 3.5], "nice": false},
                  "axis": {"orient": "left", "tickCount": 35, "tickSize": -4, "labels": false, "title": null}},
            "color": {"field": "species", "type": "nominal", "scale": {"domain": ["electron ν", "electron anti-ν", "heavy ν"], "range": ["#e3262d", "#2c3e94", "#5bb548"]}, "legend": null}
          }
        },
        {
          "transform": [{"filter": "datum.species === 'heavy ν'"}],
          "mark": {"type": "line", "strokeWidth": 2},
          "encoding": {
            "x": {"field": "t", "type": "quantitative", "scale": {"domain": [-5, 30], "nice": false},
                  "axis": {"orient": "top", "values": [-5, 0, 5, 10, 15, 20, 25, 30], "tickSize": -9, "labels": false, "title": null}},
            "y": {"field": "L", "type": "quantitative", "scale": {"domain": [0, 3.5], "nice": false},
                  "axis": {"orient": "right", "values": [1, 2, 3], "tickSize": -9, "labels": false, "title": null}},
            "color": {"field": "species", "type": "nominal", "scale": {"domain": ["electron ν", "electron anti-ν", "heavy ν"], "range": ["#e3262d", "#2c3e94", "#5bb548"]}, "legend": null}
          }
        },
        {
          "data": {"values": [{"t": 13.2}]},
          "mark": {"type": "rule", "color": "#111111", "strokeWidth": 2, "strokeDash": [2, 4]},
          "encoding": {
            "x": {"field": "t", "type": "quantitative", "scale": {"domain": [-5, 30], "nice": false},
                  "axis": {"orient": "top", "tickCount": 35, "tickSize": -5, "labels": false, "title": null}}
          }
        },
        {
          "data": {"values": [{"label": "130-140"}]},
          "mark": {"type": "text", "align": "left", "baseline": "alphabetic", "dx": 16, "dy": 26, "font": "DejaVu Serif", "fontSize": 21, "color": "#1a1a1a"},
          "encoding": {
            "x": {"datum": -5, "type": "quantitative", "scale": {"domain": [-5, 30], "nice": false}, "axis": null},
            "y": {"datum": 3.5, "type": "quantitative", "scale": {"domain": [0, 3.5], "nice": false},
                  "axis": {"orient": "right", "tickCount": 35, "tickSize": -4, "labels": false, "title": null}},
            "text": {"field": "label"}
          }
        },
        {
          "data": {"values": [{"label": "Prompt collapse BH"}]},
          "mark": {"type": "text", "align": "left", "baseline": "alphabetic", "font": "DejaVu Sans", "fontSize": 44, "color": "#000000"},
          "encoding": {
            "x": {"datum": 5.2, "type": "quantitative", "scale": {"domain": [-5, 30], "nice": false}, "axis": null},
            "y": {"datum": 2.37, "type": "quantitative", "scale": {"domain": [0, 3.5], "nice": false}, "axis": null},
            "text": {"field": "label"}
          }
        }
      ]
    },
    {
      "width": 661, "height": 218,
      "data": {"name": "sfho_125_145"},
      "resolve": {"axis": {"x": "independent", "y": "independent"}},
      "layer": [
        {
          "transform": [{"filter": "datum.species === 'electron ν'"}],
          "mark": {"type": "line", "strokeWidth": 2},
          "encoding": {
            "x": {"field": "t", "type": "quantitative", "scale": {"domain": [-5, 30], "nice": false},
                  "axis": {"orient": "bottom", "values": [-5, 0, 5, 10, 15, 20, 25, 30], "tickSize": -9, "labelPadding": 22,
                           "labelExpr": "datum.value < 0 ? '-' + abs(datum.value) : '' + datum.value",
                           "title": "t - t", "titleX": 249, "titleY": 70, "titleAlign": "left", "titleBaseline": "alphabetic", "titleFontSize": 25}},
            "y": {"field": "L", "type": "quantitative", "scale": {"domain": [0, 3], "nice": false},
                  "axis": {"orient": "left", "values": [0, 1, 2, 3], "tickSize": -9, "labelPadding": 20, "title": null}},
            "color": {"field": "species", "type": "nominal", "scale": {"domain": ["electron ν", "electron anti-ν", "heavy ν"], "range": ["#e3262d", "#2c3e94", "#5bb548"]}, "legend": null}
          }
        },
        {
          "transform": [{"filter": "datum.species === 'electron anti-ν'"}],
          "mark": {"type": "line", "strokeWidth": 2},
          "encoding": {
            "x": {"field": "t", "type": "quantitative", "scale": {"domain": [-5, 30], "nice": false},
                  "axis": {"orient": "bottom", "tickCount": 35, "tickSize": -5, "labels": false, "title": null}},
            "y": {"field": "L", "type": "quantitative", "scale": {"domain": [0, 3], "nice": false},
                  "axis": {"orient": "left", "tickCount": 30, "tickSize": -4, "labels": false, "title": null}},
            "color": {"field": "species", "type": "nominal", "scale": {"domain": ["electron ν", "electron anti-ν", "heavy ν"], "range": ["#e3262d", "#2c3e94", "#5bb548"]}, "legend": null}
          }
        },
        {
          "transform": [{"filter": "datum.species === 'heavy ν'"}],
          "mark": {"type": "line", "strokeWidth": 2},
          "encoding": {
            "x": {"field": "t", "type": "quantitative", "scale": {"domain": [-5, 30], "nice": false},
                  "axis": {"orient": "top", "values": [-5, 0, 5, 10, 15, 20, 25, 30], "tickSize": -9, "labels": false, "title": null}},
            "y": {"field": "L", "type": "quantitative", "scale": {"domain": [0, 3], "nice": false},
                  "axis": {"orient": "right", "values": [1, 2, 3], "tickSize": -9, "labels": false, "title": null}},
            "color": {"field": "species", "type": "nominal", "scale": {"domain": ["electron ν", "electron anti-ν", "heavy ν"], "range": ["#e3262d", "#2c3e94", "#5bb548"]}, "legend": null}
          }
        },
        {
          "data": {"values": [{"t": 8.87}]},
          "mark": {"type": "rule", "color": "#111111", "strokeWidth": 2, "strokeDash": [2, 4]},
          "encoding": {
            "x": {"field": "t", "type": "quantitative", "scale": {"domain": [-5, 30], "nice": false},
                  "axis": {"orient": "top", "tickCount": 35, "tickSize": -5, "labels": false, "title": null}}
          }
        },
        {
          "data": {"values": [{"label": "125-145"}]},
          "mark": {"type": "text", "align": "left", "baseline": "alphabetic", "dx": 16, "dy": 32, "font": "DejaVu Serif", "fontSize": 21, "color": "#1a1a1a"},
          "encoding": {
            "x": {"datum": -5, "type": "quantitative", "scale": {"domain": [-5, 30], "nice": false}, "axis": null},
            "y": {"datum": 3, "type": "quantitative", "scale": {"domain": [0, 3], "nice": false},
                  "axis": {"orient": "right", "tickCount": 30, "tickSize": -4, "labels": false, "title": null}},
            "text": {"field": "label"}
          }
        },
        {
          "data": {"values": [{"label": "R"}]},
          "mark": {"type": "text", "align": "left", "baseline": "alphabetic", "font": "Liberation Serif", "fontStyle": "italic", "fontSize": 48, "color": "#000000"},
          "encoding": {
            "x": {"datum": 10.41, "type": "quantitative", "scale": {"domain": [-5, 30], "nice": false},
                  "axis": {"orient": "bottom", "ticks": false, "labels": false, "title": "M-6", "titleX": 297, "titleY": 76, "titleAlign": "left", "titleBaseline": "alphabetic", "titleFontSize": 18}},
            "y": {"datum": 1.98, "type": "quantitative", "scale": {"domain": [0, 3], "nice": false}, "axis": null},
            "text": {"field": "label"}
          }
        },
        {
          "data": {"values": [{"label": "1.40"}]},
          "mark": {"type": "text", "align": "left", "baseline": "alphabetic", "dx": 31, "dy": 10, "font": "Liberation Serif", "fontSize": 34, "color": "#000000"},
          "encoding": {
            "x": {"datum": 10.41, "type": "quantitative", "scale": {"domain": [-5, 30], "nice": false},
                  "axis": {"orient": "bottom", "ticks": false, "labels": false, "title": "[ms]", "titleX": 347, "titleY": 70, "titleAlign": "left", "titleBaseline": "alphabetic", "titleFontSize": 25}},
            "y": {"datum": 1.98, "type": "quantitative", "scale": {"domain": [0, 3], "nice": false}, "axis": null},
            "text": {"field": "label"}
          }
        },
        {
          "data": {"values": [{"label": "="}]},
          "mark": {"type": "text", "align": "center", "baseline": "alphabetic", "dx": 125, "font": "Liberation Serif", "fontSize": 48, "color": "#000000"},
          "encoding": {
            "x": {"datum": 10.41, "type": "quantitative", "scale": {"domain": [-5, 30], "nice": false}, "axis": null},
            "y": {"datum": 1.98, "type": "quantitative", "scale": {"domain": [0, 3], "nice": false}, "axis": null},
            "text": {"field": "label"}
          }
        },
        {
          "data": {"values": [{"label": "11.9 km"}]},
          "mark": {"type": "text", "align": "left", "baseline": "alphabetic", "dx": 165, "font": "Liberation Serif", "fontSize": 48, "color": "#000000"},
          "encoding": {
            "x": {"datum": 10.41, "type": "quantitative", "scale": {"domain": [-5, 30], "nice": false}, "axis": null},
            "y": {"datum": 1.98, "type": "quantitative", "scale": {"domain": [0, 3], "nice": false}, "axis": null},
            "text": {"field": "label"}
          }
        }
      ]
    }
  ]
}
